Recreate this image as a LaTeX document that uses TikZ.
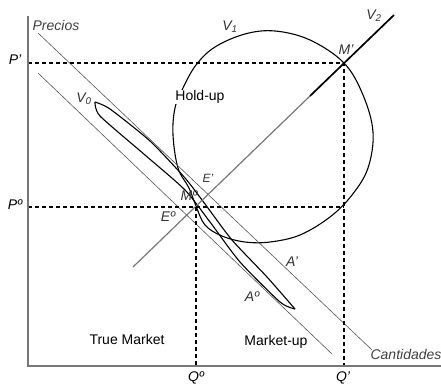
\documentclass[tikz,border=0pt]{standalone}
\usepackage{fontspec}
\setmainfont{Liberation Sans}
\usepackage{tikz}
\usetikzlibrary{calc}
\definecolor{axisGray}{HTML}{777777}
\definecolor{lineGray}{HTML}{555555}
\definecolor{textGray}{HTML}{333333}

\begin{document}
\begin{tikzpicture}[
    x=1pt, y=-1pt,
    every node/.style={font=\fontsize{14}{16}\selectfont, inner sep=1pt},
    axisline/.style={draw=axisGray, line width=1.3pt},
    guide/.style={draw=black, line width=1.8pt, dash pattern=on 4pt off 3pt},
    thinline/.style={draw=lineGray, line width=0.6pt},
    curveline/.style={draw=black, line width=1.1pt, line join=round},
    lbl/.style={font=\fontsize{14}{16}\selectfont\itshape, text=textGray},
    area/.style={font=\fontsize{14}{16}\selectfont}
]
    \useasboundingbox (0,0) rectangle (441,385);

    % key points
    \coordinate (O) at (28,366);
    \coordinate (ytop) at (28,16);
    \coordinate (xend) at (441,366);
    \coordinate (Mp) at (344,63);
    \coordinate (Mo) at (196,207);
    \coordinate (Pp) at (28,63);
    \coordinate (Po) at (28,207);
    \coordinate (Qo) at (196,366);
    \coordinate (Qp) at (344,366);
    \coordinate (Qpo) at (344,207);
    \coordinate (v2a) at (133,267);
    \coordinate (v2b) at (310,96);
    \coordinate (v2c) at (394,15);

    % V1 curve
    \draw[curveline] plot[smooth cycle, tension=0.6] coordinates {
        (275,31) (310,40) (344,63) (363,95) (373,132) (368,168) (352,195)
        (330,217) (300,235) (270,242) (245,242) (222,236) (205,225) (196,206)
        (189,188) (178,168) (173,135) (175,108) (183,88) (196,65) (215,47) (245,34)};

    % V0 loop
    \draw[curveline] plot[smooth, tension=0.4] coordinates {
        (95,102) (110,109) (150,141) (185,178) (205,204) (232,240) (267,277) (295,309)};
    \draw[curveline] plot[smooth, tension=0.4] coordinates {
        (95,102) (100,116) (145,155) (185,190) (210,222) (240,262) (280,302) (295,309)};

    % A' and A0
    \draw[thinline] (38,33) -- (372,350);
    \draw[thinline] (38,73) -- (332,354);

    % V2
    \draw[draw=axisGray, line width=1.2pt] (v2a) -- (v2b);
    \draw[draw=black, line width=1.7pt] (v2b) -- (v2c);

    % guides
    \draw[guide] (Pp) -- (Mp) -- (Qp);
    \draw[guide] (Po) -- (Qpo);
    \draw[guide] (Mo) -- (Qo);

    % axes
    \draw[axisline] (ytop) -- (O) -- (xend);

    % labels
    \node[lbl, text=black!75] (precios) at (56,25) {Precios};
    \node[lbl, text=black!75] (cantidades) at (406,354) {Cantidades};
    \node[lbl, text=black] (lPp) at (15,60) {P'};
    \node[lbl, text=black] (lPo) at (15,205) {Pº};
    \node[lbl, text=black] (lQo) at (196,378) {Qº};
    \node[lbl, text=black] (lQp) at (343,378) {Q'};
    \node[lbl] (lV0) at (84,99) {V\textsubscript{0}};
    \node[lbl] (lV1) at (230,27) {V\textsubscript{1}};
    \node[lbl] (lV2) at (374,16) {V\textsubscript{2}};
    \node[lbl] (lMp) at (346,50) {M'};
    \node[lbl, font=\fontsize{12}{14}\selectfont\itshape] (lEp) at (208,178) {E'};
    \node[lbl] (lMo) at (189,196) {Mº};
    \node[lbl] (lEo) at (168,217) {Eº};
    \node[lbl] (lAp) at (292,262) {A'};
    \node[lbl] (lAo) at (252,297) {Aº};
    \node[area, fill=white, inner sep=0pt] (holdup) at (200,97) {Hold-up};
    \node[area] (truemkt) at (127,339) {True Market};
    \node[area] (mktup) at (276,342) {Market-up};
\end{tikzpicture}
\end{document}
